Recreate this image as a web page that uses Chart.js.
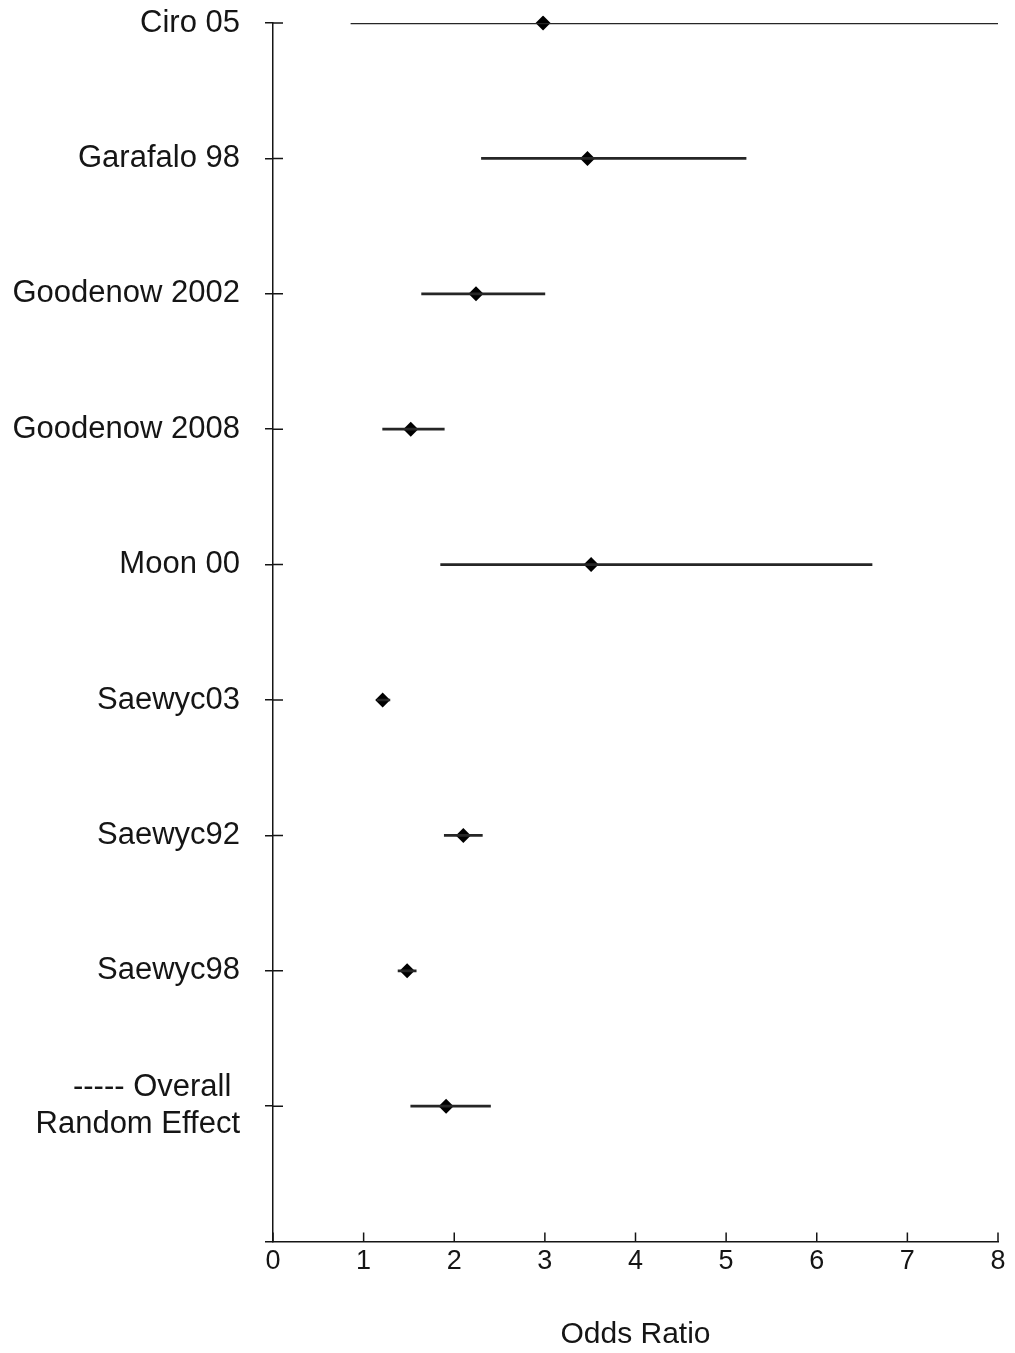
<!DOCTYPE html>
<html lang="en">
<head>
  <meta charset="UTF-8">
  <title>Odds Ratio Forest Plot</title>
  <script src="https://cdn.jsdelivr.net/npm/chart.js"></script>
  <style>
    html, body {
      margin: 0;
      padding: 0;
      background: #fff;
    }
    .chart-container {
      width: 1015px;
      height: 1353px;
    }
  </style>
</head>
<body>
  <div class="chart-container">
    <canvas id="forestChart"></canvas>
  </div>

  <script>
    // Studies top to bottom, last empty slot is the bottom of the axis
    const studies = ["Ciro 05", "Garafalo 98", "Goodenow 2002", "Goodenow 2008", "Moon 00",
      "Saewyc03", "Saewyc92", "Saewyc98", ["----- Overall ", "Random Effect"], ""];
    const oddsRatio = [2.98, 3.47, 2.24, 1.52, 3.51, 1.21, 2.10, 1.48, 1.91];
    const ciLower = [0.86, 2.30, 1.64, 1.21, 1.85, 1.15, 1.89, 1.38, 1.52];
    const ciUpper = [8.00, 5.22, 3.00, 1.89, 6.61, 1.29, 2.31, 1.58, 2.40];
    const xTicks = [0, 1, 2, 3, 4, 5, 6, 7, 8];

    const fontFamily = "'Liberation Sans', Arial, sans-serif";
    const ink = "#151515";

    // Small tick marks that point into the plot area
    const innerTicks = {
      id: "innerTicks",
      afterDraw(chart) {
        const ctx = chart.ctx;
        const x = chart.scales.x;
        const y = chart.scales.y;
        const area = chart.chartArea;
        ctx.save();
        ctx.strokeStyle = ink;
        ctx.lineWidth = 1.5;
        ctx.beginPath();
        for (let i = 0; i < oddsRatio.length; i++) {
          const py = y.getPixelForValue(i);
          ctx.moveTo(area.left, py);
          ctx.lineTo(area.left + 10, py);
        }
        xTicks.forEach(v => {
          const px = x.getPixelForValue(v);
          ctx.moveTo(px, area.bottom);
          ctx.lineTo(px, area.bottom - 9);
        });
        ctx.stroke();
        ctx.restore();
      }
    };

    const ctx = document.getElementById("forestChart").getContext("2d");
    new Chart(ctx, {
      type: "bar",
      data: {
        labels: studies,
        datasets: [
          {
            label: "95% CI",
            data: ciLower.map((lo, i) => [lo, ciUpper[i]]),
            backgroundColor: "#262626",
            borderWidth: 0,
            barThickness: 2,
            grouped: false
          },
          {
            type: "scatter",
            label: "Odds Ratio",
            data: oddsRatio.map((v, i) => ({ x: v, y: i })),
            pointStyle: "rectRot",
            pointRadius: 7.5,
            backgroundColor: "#000",
            borderWidth: 0
          }
        ]
      },
      options: {
        indexAxis: "y",
        responsive: true,
        maintainAspectRatio: false,
        animation: false,
        layout: {
          padding: { top: 23, right: 17, bottom: 0, left: 0 }
        },
        plugins: {
          legend: { display: false },
          tooltip: { enabled: false }
        },
        scales: {
          x: {
            type: "linear",
            min: 0,
            max: 8,
            ticks: {
              stepSize: 1,
              padding: 4,
              color: ink,
              font: { family: fontFamily, size: 27 }
            },
            grid: { drawOnChartArea: false, drawTicks: false },
            border: { color: ink, width: 1.5 },
            title: {
              display: true,
              text: "Odds Ratio",
              color: ink,
              font: { family: fontFamily, size: 30 },
              padding: { top: 35, bottom: 0 }
            }
          },
          y: {
            type: "category",
            offset: false,
            ticks: {
              autoSkip: false,
              padding: 25,
              color: ink,
              font: { family: fontFamily, size: 31 }
            },
            grid: {
              offset: false,
              drawOnChartArea: false,
              drawTicks: true,
              tickLength: 8,
              color: ink,
              lineWidth: 1.5
            },
            border: { color: ink, width: 1.5 },
            afterFit(scale) {
              scale.width = 273;
              scale.paddingTop = 0;
              scale.paddingBottom = 0;
            }
          }
        }
      },
      plugins: [innerTicks]
    });
  </script>
</body>
</html>
